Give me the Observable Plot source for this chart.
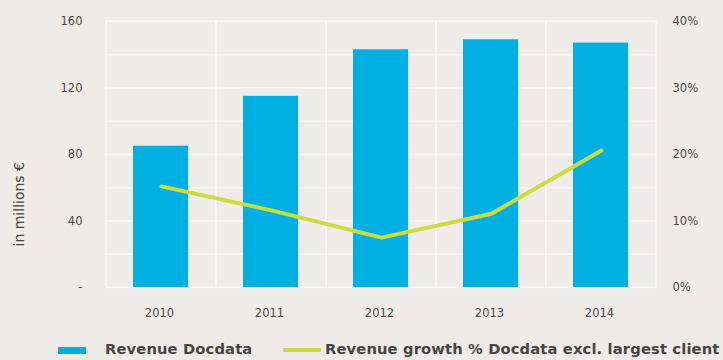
<!DOCTYPE html>
<html>
<head>
<meta charset="utf-8">
<script src="https://cdn.jsdelivr.net/npm/d3@7"></script>
<script src="https://cdn.jsdelivr.net/npm/@observablehq/plot@0.6"></script>
<style>
  html, body { margin: 0; padding: 0; background: #efebe8; }
  body { width: 723px; height: 360px; overflow: hidden; font-family: "DejaVu Sans", sans-serif; }
  #legend { position: relative; height: 25px; }
  .sw { position: absolute; }
  .lt { position: absolute; top: 5px; font-size: 14.7px; font-weight: bold; color: #454545; white-space: nowrap; letter-spacing: 0.15px; }
</style>
</head>
<body>
<div id="chart"></div>
<div id="legend">
  <div class="sw" style="left:58px; top:12px; width:28px; height:7px; background:#00b0e2;"></div>
  <div class="lt" style="left:105px;">Revenue Docdata</div>
  <div class="sw" style="left:283px; top:13px; width:38px; height:4px; background:#cbdc3c;"></div>
  <div class="lt" style="left:325px;">Revenue growth % Docdata excl. largest client</div>
</div>
<script>
const years = ["2010", "2011", "2012", "2013", "2014"];
const revenue = [85, 115, 143, 149, 147];
const growthPct = [15.2, 11.6, 7.5, 11.1, 20.6];
const leftTicks = [0, 40, 80, 120, 160];
const leftTickLabels = ["-", "40", "80", "120", "160"];
const rightTickLabels = ["0%", "10%", "20%", "30%", "40%"];
const gridLevels = [0, 20, 40, 60, 80, 100, 120, 140, 160];

const rows = years.map((y, i) => ({year: y, revenue: revenue[i], growth: growthPct[i] * 4}));

const chart = Plot.plot({
  width: 723,
  height: 335,
  marginLeft: 105,
  marginRight: 67,
  marginTop: 21,
  marginBottom: 48,
  style: {background: "#efebe8", fontFamily: "DejaVu Sans, sans-serif", fontSize: "11.5px", color: "#555"},
  x: {domain: years, padding: 0, label: null},
  y: {domain: [0, 160], label: null},
  marks: [
    Plot.ruleY(gridLevels, {stroke: "#ffffff", strokeOpacity: 0.5, strokeWidth: 1.5}),
    Plot.barY(years, {x: d => d, y1: 0, y2: 160, fill: "none", stroke: "#ffffff", strokeOpacity: 0.5, strokeWidth: 1.5}),
    Plot.barY(rows, {x: "year", y: "revenue", fill: "#00b0e2", insetLeft: 27, insetRight: 28}),
    Plot.line(rows, {x: "year", y: "growth", stroke: "#cbdc3c", strokeWidth: 4, strokeLinejoin: "round", strokeLinecap: "round"}),
    Plot.axisX({tickSize: 0, tickPadding: 21, fill: "#4a4a4a", dx: -2}),
    Plot.axisY({anchor: "left", ticks: leftTicks, tickFormat: (d, i) => leftTickLabels[i], tickSize: 0, tickPadding: 23, fill: "#4a4a4a", label: null}),
    Plot.axisY({anchor: "right", ticks: leftTicks, tickFormat: (d, i) => rightTickLabels[i], tickSize: 0, tickPadding: 16, fill: "#4a4a4a", label: null}),
    Plot.text(["in millions €"], {frameAnchor: "left", dx: -86, dy: 92, rotate: -90, fontSize: 14, fill: "#444", text: d => d})
  ]
});
document.getElementById("chart").appendChild(chart);
</script>
</body>
</html>
